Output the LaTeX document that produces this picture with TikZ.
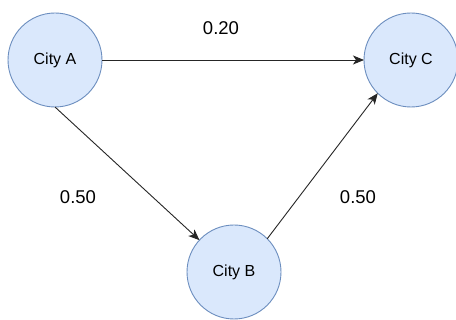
\documentclass[tikz,border=0pt]{standalone}
\usepackage{fontspec}
\setmainfont{Liberation Sans}
\usetikzlibrary{arrows.meta}
\definecolor{cityfill}{HTML}{DAE8FC}
\definecolor{citydraw}{HTML}{6C8EBF}
\tikzset{
  city/.style={circle, draw=citydraw, fill=cityfill, line width=0.9pt,
    minimum size=94pt, inner sep=0pt, outer sep=0pt,
    font=\fontsize{16}{19}\selectfont},
  link/.style={draw=black!85, line width=0.9pt,
    -{Stealth[length=11pt, width=9pt, inset=3pt]}},
  weight/.style={font=\fontsize{18.5}{22}\selectfont, inner sep=0pt}
}
\begin{document}
\begin{tikzpicture}[x=1pt, y=-1pt]
  \useasboundingbox (0,0) rectangle (456,320);
  \fill[white] (0,0) rectangle (456,320);
  % cities
  \node[city] (A) at (55,60) {City A};
  \node[city] (C) at (411,60) {City C};
  \node[city] (B) at (234,272) {City B};
  % connections
  \draw[link] (A.east) -- (C.west);
  \draw[link] (A.south) -- (B);
  \draw[link] (B.north east) -- (C.south west);
  % weights
  \node[weight] (wAC) at (221,28) {0.20};
  \node[weight] (wAB) at (78,197) {0.50};
  \node[weight] (wBC) at (358,197) {0.50};
\end{tikzpicture}
\end{document}
